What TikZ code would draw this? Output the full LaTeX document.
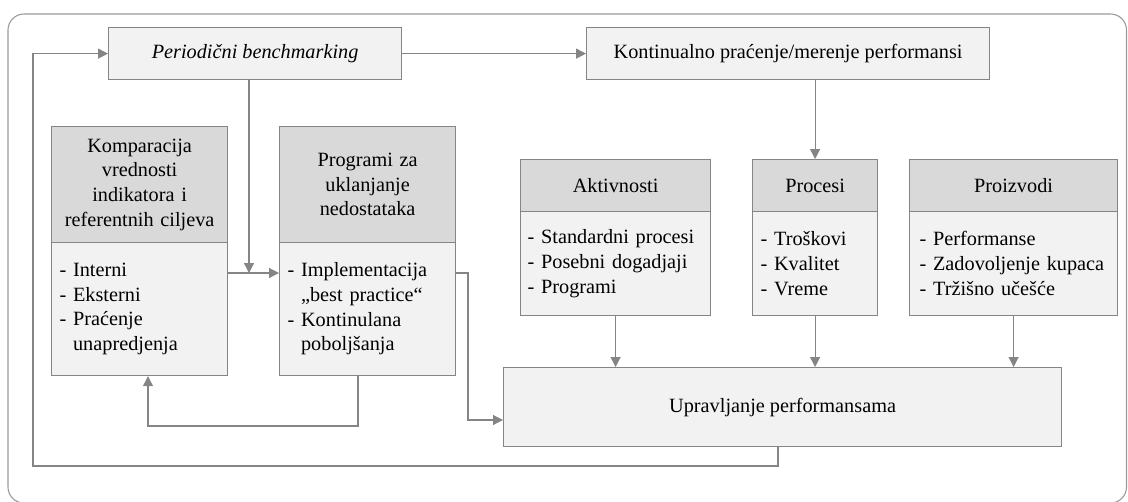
\documentclass[tikz,border=0pt]{standalone}
\usepackage{fontspec}
\setmainfont{Liberation Serif}
\usetikzlibrary{arrows.meta}

\definecolor{linegray}{HTML}{858585}
\definecolor{framegray}{HTML}{9A9A9A}
\definecolor{headfill}{HTML}{D9D9D9}
\definecolor{bodyfill}{HTML}{F2F2F2}

\tikzset{
  txt/.style={font=\fontsize{15.2}{18.5}\selectfont},
  % plain box: width, height in px
  plainbox/.style 2 args={txt, draw=linegray, fill=bodyfill, line width=0.9pt,
    anchor=north west, inner sep=0pt, align=center,
    minimum width={#1*0.75pt}, minimum height={#2*0.75pt}},
  % grey title part of a two-part box
  headbox/.style 2 args={txt, draw=linegray, fill=headfill, line width=0.9pt,
    anchor=north west, inner sep=0pt, align=center, text width={#1*0.75pt},
    minimum width={#1*0.75pt}, minimum height={#2*0.75pt}},
  % light list part: width, height, left padding (px)
  listbox/.style n args={3}{txt, draw=linegray, fill=bodyfill, line width=0.9pt,
    anchor=north west, inner ysep=0pt, inner xsep={#3*0.75pt}, align=left,
    text width={(#1-2*#3)*0.75pt},
    minimum width={#1*0.75pt}, minimum height={#2*0.75pt}},
  conn/.style={draw=linegray, line width=0.9pt},
  arr/.style={conn, -{Triangle[length=7.5pt,width=7.5pt]}},
  frame/.style={draw=framegray, line width=0.8pt, rounded corners=12pt}
}

\newcommand{\hang}{\phantom{- }}

\begin{document}
\begin{tikzpicture}[x=0.75pt,y=-0.75pt]
  \useasboundingbox (0,0) rectangle (1128,501);
  \begin{scope}
    \clip (0,0) rectangle (1128,501);
    \draw[frame] (8,14) rectangle (1126.5,503);
  \end{scope}

  % top row
  \node[plainbox={293}{52}] (per) at (108,27) {\itshape Periodični benchmarking};
  \node[plainbox={403}{52}] (kon) at (586,27) {Kontinualno praćenje/merenje performansi};

  % left pair of two-part boxes
  \node[headbox={176}{116}] (komh) at (51,126)
    {\raisebox{-3pt}{\parbox{132pt}{\centering Komparacija\\vrednosti\\indikatora i\\referentnih ciljeva}}};
  \node[listbox={176}{133}{8}] (komb) at (51,242)
    {- Interni\\- Eksterni\\- Praćenje\\\hang unapredjenja};

  \node[headbox={176}{116}] (prgh) at (279,126)
    {\raisebox{-3pt}{\parbox{132pt}{\centering Programi za\\uklanjanje\\nedostataka}}};
  \node[listbox={176}{133}{8}] (prgb) at (279,242)
    {- Implementacija\\\hang„best practice“\\- Kontinulana\\\hang poboljšanja};

  % right group of two-part boxes
  \node[headbox={190}{52}] (akth) at (520,159) {Aktivnosti};
  \node[listbox={190}{104}{7}] (aktb) at (520,211)
    {- Standardni procesi\\- Posebni dogadjaji\\- Programi};

  \node[headbox={125}{52}] (proh) at (752,159) {Procesi};
  \node[listbox={125}{104}{8}] (prob) at (752,211)
    {- Troškovi\\- Kvalitet\\- Vreme};

  \node[headbox={208}{52}] (przh) at (909,159) {Proizvodi};
  \node[listbox={208}{104}{10}] (przb) at (909,211)
    {- Performanse\\- Zadovoljenje kupaca\\- Tržišno učešće};

  % bottom box
  \node[plainbox={558}{79}] (upr) at (503,367) {Upravljanje performansama};

  % routing points
  \coordinate (j) at (249,273);
  \coordinate (k) at (468,420);
  \coordinate (l) at (358,426);
  \coordinate (m) at (148,426);
  \coordinate (f1) at (778,466);
  \coordinate (f2) at (33,466);

  % connectors
  \draw[arr] (per.east) -- (kon.west);
  \draw[arr] (per.south -| j) -- (j);
  \draw[arr] (komb.east |- j) -- (prgb.west |- j);
  \draw[arr] (prgb.east |- j) -| (k) -- (upr.west |- k);
  \draw[arr] (prgb.south -| l) -- (l) -- (m) -- (komb.south -| m);
  \draw[arr] (upr.south -| f1) -- (f1) -- (f2) |- (per.west);
  \draw[arr] (kon.south -| proh.north) -- (proh.north);
  \draw[arr] (aktb.south) -- (aktb.south |- upr.north);
  \draw[arr] (prob.south) -- (prob.south |- upr.north);
  \draw[arr] (przb.south) -- (przb.south |- upr.north);
\end{tikzpicture}
\end{document}
